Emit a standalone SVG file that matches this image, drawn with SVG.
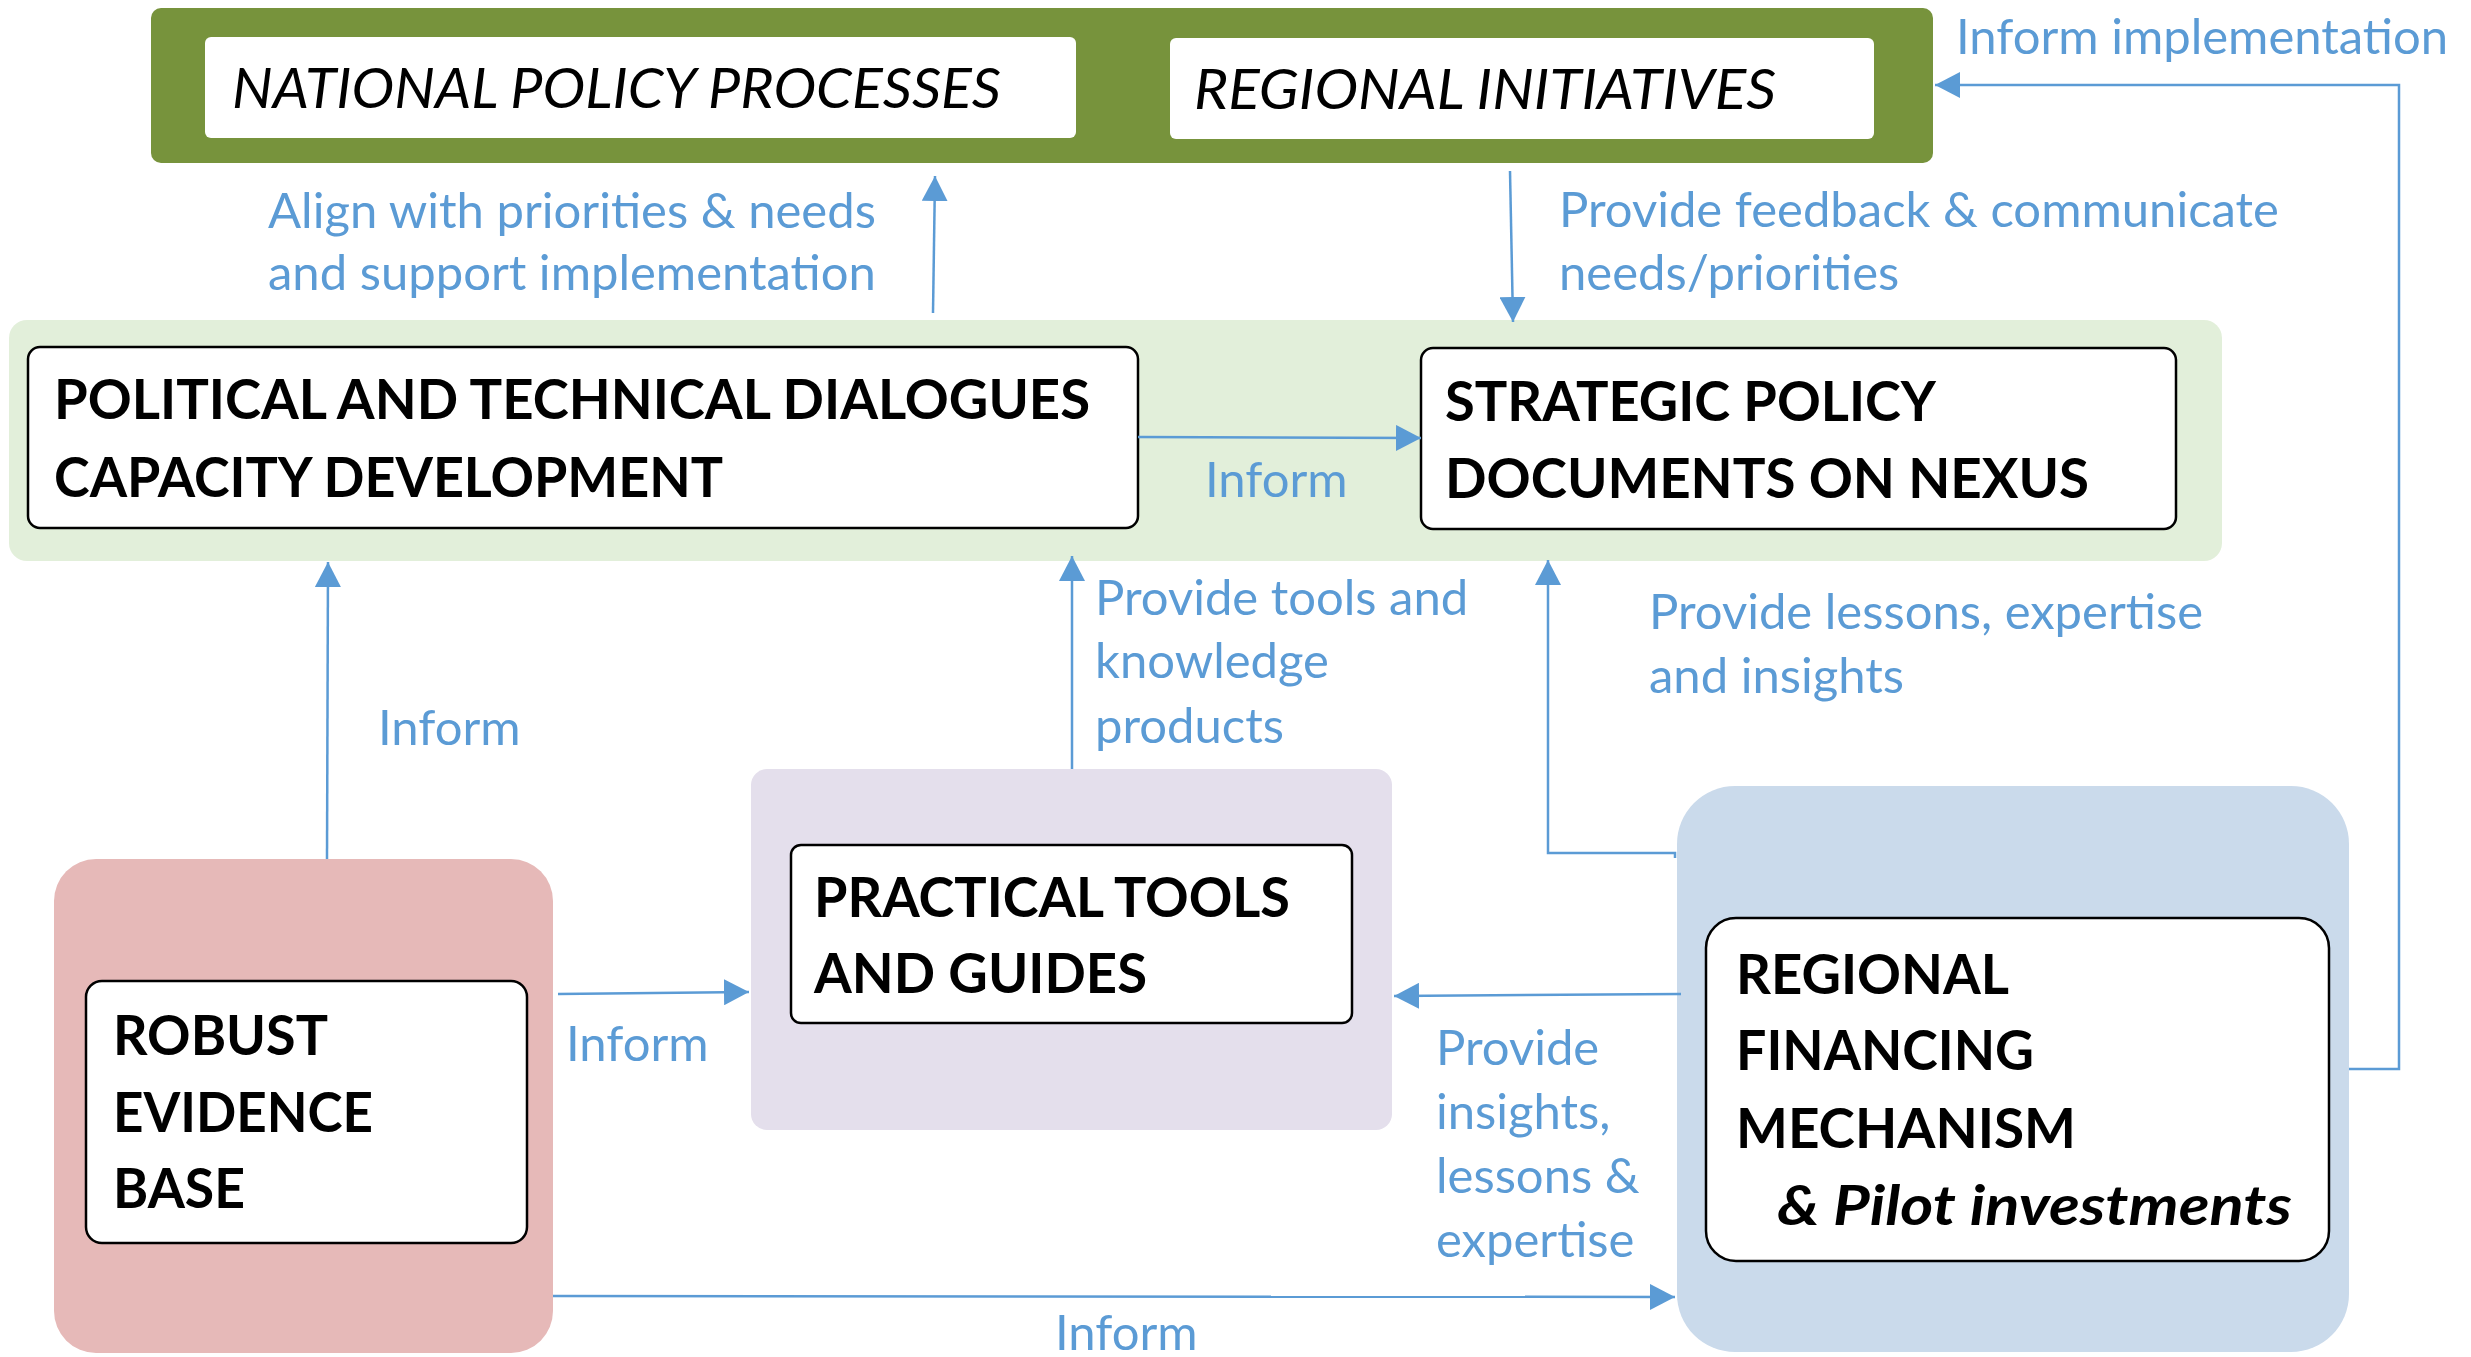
<svg xmlns="http://www.w3.org/2000/svg" width="2471" height="1357" viewBox="0 0 2471 1357">
  <style>
    .grp-green{fill:#77933C}
    .band{fill:#E2EFDA}
    .pink{fill:#E6B9B8}
    .lav{fill:#E4DFEC}
    .lblue{fill:#CADAEB}
    .wbox{fill:#FFFFFF}
    .box{fill:#FFFFFF;stroke:#000000;stroke-width:2.5}
    .bold{font-family:Lato,"Open Sans",sans-serif;font-weight:bold;font-size:56px;fill:#000000}
    .ital{font-family:Lato,"Open Sans",sans-serif;font-style:italic;font-size:56px;fill:#000000}
    .bi{font-family:Lato,"Open Sans",sans-serif;font-style:italic;font-weight:bold;font-size:55px;fill:#000000}
    .lbl{font-family:Lato,"Open Sans",sans-serif;font-size:49px;fill:#5B9BD5}
    .conn{fill:none;stroke:#5B9BD5;stroke-width:2.5}
  </style>
  <defs>
    <marker id="arr" markerUnits="userSpaceOnUse" markerWidth="26" markerHeight="26" refX="25" refY="13" orient="auto">
      <path d="M0,0 L25,13 L0,26 Z" fill="#5B9BD5"/>
    </marker>
  </defs>

  <g id="policy-frame">
    <rect class="grp-green" x="151" y="8" width="1782" height="155" rx="10"/>
  </g>
  <g id="national-policy-processes">
    <rect class="wbox" x="205" y="37" width="871" height="101" rx="6"/>
    <text class="ital" x="232" y="108" textLength="769" lengthAdjust="spacingAndGlyphs">NATIONAL POLICY PROCESSES</text>
  </g>
  <g id="regional-initiatives">
    <rect class="wbox" x="1170" y="38" width="704" height="101" rx="6"/>
    <text class="ital" x="1194" y="109" textLength="582" lengthAdjust="spacingAndGlyphs">REGIONAL INITIATIVES</text>
  </g>

  <g id="dialogue-band">
    <rect class="band" x="9" y="320" width="2213" height="241" rx="18"/>
  </g>
  <g id="political-technical-dialogues">
    <rect class="box" x="28" y="347" width="1110" height="181" rx="12"/>
    <text class="bold" x="54" y="419" textLength="1036" lengthAdjust="spacingAndGlyphs">POLITICAL AND TECHNICAL DIALOGUES</text>
    <text class="bold" x="54" y="497" textLength="669" lengthAdjust="spacingAndGlyphs">CAPACITY DEVELOPMENT</text>
  </g>
  <g id="strategic-policy-documents">
    <rect class="box" x="1421" y="348" width="755" height="181" rx="12"/>
    <text class="bold" x="1445" y="421" textLength="491" lengthAdjust="spacingAndGlyphs">STRATEGIC POLICY</text>
    <text class="bold" x="1445" y="498" textLength="644" lengthAdjust="spacingAndGlyphs">DOCUMENTS ON NEXUS</text>
  </g>

  <g id="evidence-group">
    <rect class="pink" x="54" y="859" width="499" height="494" rx="42"/>
  </g>
  <g id="robust-evidence-base">
    <rect class="box" x="86" y="981" width="441" height="262" rx="16"/>
    <text class="bold" x="113" y="1055" textLength="215" lengthAdjust="spacingAndGlyphs">ROBUST</text>
    <text class="bold" x="113" y="1132" textLength="260" lengthAdjust="spacingAndGlyphs">EVIDENCE</text>
    <text class="bold" x="113" y="1208" textLength="132" lengthAdjust="spacingAndGlyphs">BASE</text>
  </g>

  <g id="tools-group">
    <rect class="lav" x="751" y="769" width="641" height="361" rx="16"/>
  </g>
  <g id="practical-tools">
    <rect class="box" x="791" y="845" width="561" height="178" rx="10"/>
    <text class="bold" x="814" y="917" textLength="476" lengthAdjust="spacingAndGlyphs">PRACTICAL TOOLS</text>
    <text class="bold" x="814" y="993" textLength="333" lengthAdjust="spacingAndGlyphs">AND GUIDES</text>
  </g>

  <g id="financing-group">
    <rect class="lblue" x="1677" y="786" width="672" height="566" rx="58"/>
  </g>
  <g id="regional-financing-mechanism">
    <rect class="box" x="1706" y="918" width="623" height="343" rx="30"/>
    <text class="bold" x="1736" y="994" textLength="273" lengthAdjust="spacingAndGlyphs">REGIONAL</text>
    <text class="bold" x="1736" y="1070" textLength="298" lengthAdjust="spacingAndGlyphs">FINANCING</text>
    <text class="bold" x="1736" y="1148" textLength="340" lengthAdjust="spacingAndGlyphs">MECHANISM</text>
    <text class="bi" x="1777" y="1225" textLength="515" lengthAdjust="spacingAndGlyphs">&amp; Pilot investments</text>
  </g>

  <g id="connectors">
    <path class="conn" marker-end="url(#arr)" d="M933,313 L935,176"/>
    <path class="conn" marker-end="url(#arr)" d="M1510,171 L1513,322"/>
    <path class="conn" marker-end="url(#arr)" d="M1138,437 L1421,438"/>
    <path class="conn" marker-end="url(#arr)" d="M2349,1069 L2399,1069 L2399,85 L1935,85"/>
    <path class="conn" marker-end="url(#arr)" d="M327,859 L328,562"/>
    <path class="conn" marker-end="url(#arr)" d="M1072,769 L1072,556"/>
    <path class="conn" marker-end="url(#arr)" d="M1675,858 L1675,853 L1548,853 L1548,560"/>
    <path class="conn" marker-end="url(#arr)" d="M558,994 L749,992"/>
    <path class="conn" marker-end="url(#arr)" d="M1681,994 L1394,996"/>
    <path class="conn" marker-end="url(#arr)" d="M553,1296 L1675,1297"/>

    <text class="lbl" x="1956" y="54">Inform implementation</text>
    <text class="lbl" x="268" y="228">Align with priorities &amp; needs</text>
    <text class="lbl" x="268" y="290">and support implementation</text>
    <text class="lbl" x="1559" y="227">Provide feedback &amp; communicate</text>
    <text class="lbl" x="1559" y="290">needs/priorities</text>
    <text class="lbl" x="1205" y="497">Inform</text>
    <text class="lbl" x="1095" y="615">Provide tools and</text>
    <text class="lbl" x="1095" y="678">knowledge</text>
    <text class="lbl" x="1095" y="743">products</text>
    <text class="lbl" x="1649" y="629">Provide lessons, expertise</text>
    <text class="lbl" x="1649" y="693">and insights</text>
    <text class="lbl" x="378" y="745">Inform</text>
    <text class="lbl" x="566" y="1061">Inform</text>
    <text class="lbl" x="1436" y="1065">Provide</text>
    <text class="lbl" x="1436" y="1129">insights,</text>
    <text class="lbl" x="1436" y="1193">lessons &amp;</text>
    <text class="lbl" x="1436" y="1257">expertise</text>
    <text class="lbl" x="1055" y="1350">Inform</text>
  </g>
</svg>
